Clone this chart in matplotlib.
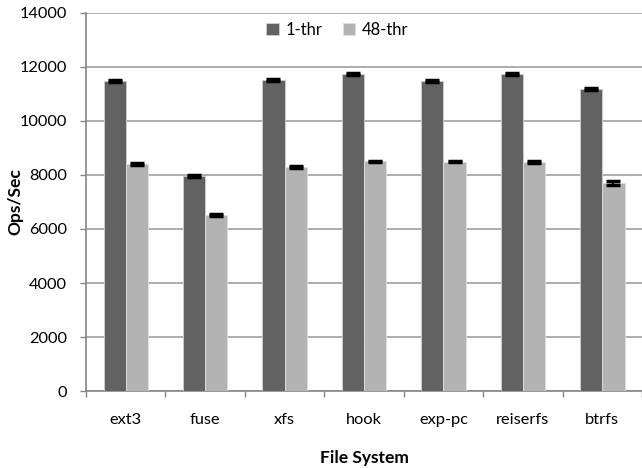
import numpy as np
import matplotlib.pyplot as plt

# file system throughput, 1 thread vs 48 threads
systems = ['ext3', 'fuse', 'xfs', 'hook', 'exp-pc', 'reiserfs', 'btrfs']
thr1 = [11470, 7960, 11510, 11720, 11470, 11730, 11180]
thr48 = [8400, 6510, 8300, 8500, 8490, 8480, 7690]
err1 = [40, 30, 40, 30, 40, 30, 30]
err48 = [30, 30, 30, 30, 30, 30, 70]

plt.rcParams['font.family'] = ['Lato', 'DejaVu Sans']

fig = plt.figure(figsize=(6.42, 4.68), dpi=100)
ax = fig.add_axes([0.134, 0.164, 0.866, 0.809])

x = np.arange(len(systems))
w = 0.28
err_kw = dict(ecolor='black', elinewidth=1.5, capsize=5, capthick=2.5)
ax.bar(x - w/2, thr1, w, yerr=err1, color='#626262', edgecolor='#d0d0d0',
       linewidth=0.6, error_kw=err_kw, label='1-thr', zorder=3)
ax.bar(x + w/2, thr48, w, yerr=err48, color='#b3b3b3', edgecolor='#e0e0e0',
       linewidth=0.6, error_kw=err_kw, label='48-thr', zorder=3)

#axes and grid
ax.set_xlim(-0.5, len(systems) - 0.5)
ax.set_ylim(0, 14000)
ax.set_yticks(np.arange(0, 14001, 2000))
ax.yaxis.grid(True, color='#a0a0a0', linewidth=1.2, zorder=0)
ax.set_axisbelow(True)
ax.set_xticks(x)
ax.set_xticklabels(systems, fontsize=11.8)
ax.set_xticks(np.arange(-0.5, len(systems)), minor=True)
ax.tick_params(axis='x', which='major', length=0, pad=16)
ax.tick_params(axis='x', which='minor', length=4.5, color='#868686', width=1)
ax.tick_params(axis='y', length=4.5, color='#868686', width=1, labelsize=11.8, pad=9)
for s in ['top', 'right']:
    ax.spines[s].set_visible(False)
for s in ['left', 'bottom']:
    ax.spines[s].set_color('#868686')
    ax.spines[s].set_linewidth(1.2)

ax.set_xlabel('File System', fontsize=12.5, fontweight='bold')
ax.set_ylabel('Ops/Sec', fontsize=12.5, fontweight='bold')
ax.xaxis.set_label_coords(0.5, -0.155)
ax.yaxis.set_label_coords(-0.113, 0.5)

ax.legend(loc='upper center', bbox_to_anchor=(0.452, 1.015), ncol=2, frameon=False,
          fontsize=12, handlelength=0.75, handleheight=0.75, handletextpad=0.4,
          columnspacing=1.2)

plt.savefig('out.png', dpi=100)
plt.close()
